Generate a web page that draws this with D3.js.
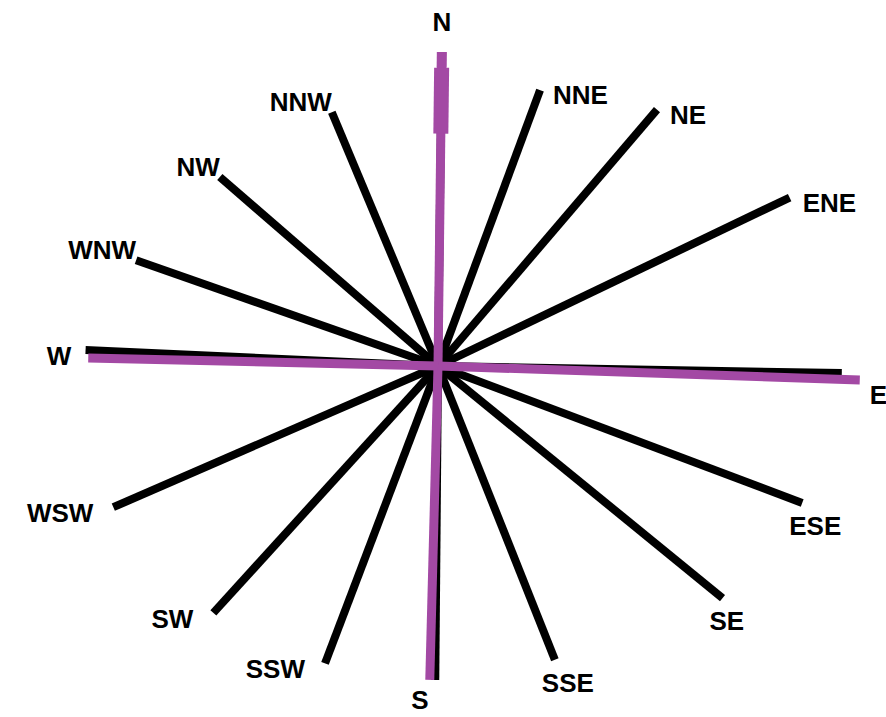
<!DOCTYPE html>
<html>
<head>
<meta charset="utf-8">
<script src="https://cdn.jsdelivr.net/npm/d3@7"></script>
<style>
  body { margin: 0; background: #fff; }
  text { font-family: "Liberation Sans", Arial, sans-serif; font-weight: bold; }
</style>
</head>
<body>
<svg id="rose" width="886" height="717"></svg>
<script>
// 16 points of the compass, clockwise from north
const directions = ["N","NNE","NE","ENE","E","ESE","SE","SSE","S","SSW","SW","WSW","W","WNW","NW","NNW"];
// bearing of each black spoke (degrees, clockwise from north)
const bearings = [0.7, 20.3, 40.5, 64.4, 91.0, 110.6, 129.2, 158.3, 180.5, 200.8, 222.3, 246.5, 272.6, 289.3, 310.9, 337.3];
// length of each spoke (0-100)
const lengths = [74.4, 69.7, 79.9, 92.4, 95.7, 92.2, 87.0, 74.9, 74.4, 75.4, 79.1, 83.9, 83.6, 75.8, 68.4, 65.2];

// purple cardinal axes
const axisNames = ["N","E","S","W"];
const axisBearings = [0.7, 91.9, 181.5, 271.3];
const axisLengths = [74.4, 100, 74.4, 82.9];

const cx = 438, cy = 366;
const purple = "#a349a4";

const svg = d3.select("#rose");
const g = svg.append("g").attr("transform", `translate(${cx},${cy})`);

const r = d3.scaleLinear().domain([0, 100]).range([0, 422]);
const rad = d => d * Math.PI / 180;
const px = (b, l) => Math.sin(rad(b)) * r(l);
const py = (b, l) => -Math.cos(rad(b)) * r(l);

const spokes = directions.map((name, i) => ({name, b: bearings[i], len: lengths[i]}));
const axes = axisNames.map((name, i) => ({name, b: axisBearings[i], len: axisLengths[i]}));

// black spokes
g.selectAll("line.spoke")
  .data(spokes)
  .join("line")
  .attr("class", "spoke")
  .attr("x1", 0).attr("y1", 0)
  .attr("x2", d => px(d.b, d.len))
  .attr("y2", d => py(d.b, d.len))
  .attr("stroke", "#000")
  .attr("stroke-width", 8);

// purple cardinal axes on top
g.selectAll("line.axis")
  .data(axes)
  .join("line")
  .attr("class", "axis")
  .attr("x1", 0).attr("y1", 0)
  .attr("x2", d => px(d.b, d.len))
  .attr("y2", d => py(d.b, d.len))
  .attr("stroke", purple)
  .attr("stroke-width", 9);

// thicker head on the north arrow
const north = axes[0];
g.append("line")
  .attr("x1", px(north.b, north.len * 0.74)).attr("y1", py(north.b, north.len * 0.74))
  .attr("x2", px(north.b, north.len * 0.95)).attr("y2", py(north.b, north.len * 0.95))
  .attr("stroke", purple).attr("stroke-width", 15);
g.append("line")
  .attr("x1", px(north.b, north.len * 0.95)).attr("y1", py(north.b, north.len * 0.95))
  .attr("x2", px(north.b, north.len)).attr("y2", py(north.b, north.len))
  .attr("stroke", purple).attr("stroke-width", 10);

// label placement by sector
function labelPos(d) {
  const b = d.b;
  const ends = axes.find(a => a.name === d.name) || d;
  const x = px(ends.b, ends.len), y = py(ends.b, ends.len);
  if (b < 10 || b > 350) return [x, y - 30, "middle"];
  if (b < 80) return [x + 13, y + 5, "start"];
  if (b < 100) return [x + 10, y + 15, "start"];
  if (b < 170) return [x - 13, y + 23, "start"];
  if (b < 190) return [x - 10, y + 20, "middle"];
  if (b < 260) return [x - 20, y + 6, "end"];
  if (b < 280) return [x - 17, y - 2, "end"];
  return [x, y - 10, "end"];
}

g.selectAll("text.label")
  .data(spokes)
  .join("text")
  .attr("class", "label")
  .each(function(d) {
    const [x, y, anchor] = labelPos(d);
    d3.select(this).attr("x", x).attr("y", y).attr("text-anchor", anchor);
  })
  .attr("dominant-baseline", "central")
  .attr("font-size", 26)
  .attr("fill", "#000")
  .text(d => d.name);
</script>
</body>
</html>
